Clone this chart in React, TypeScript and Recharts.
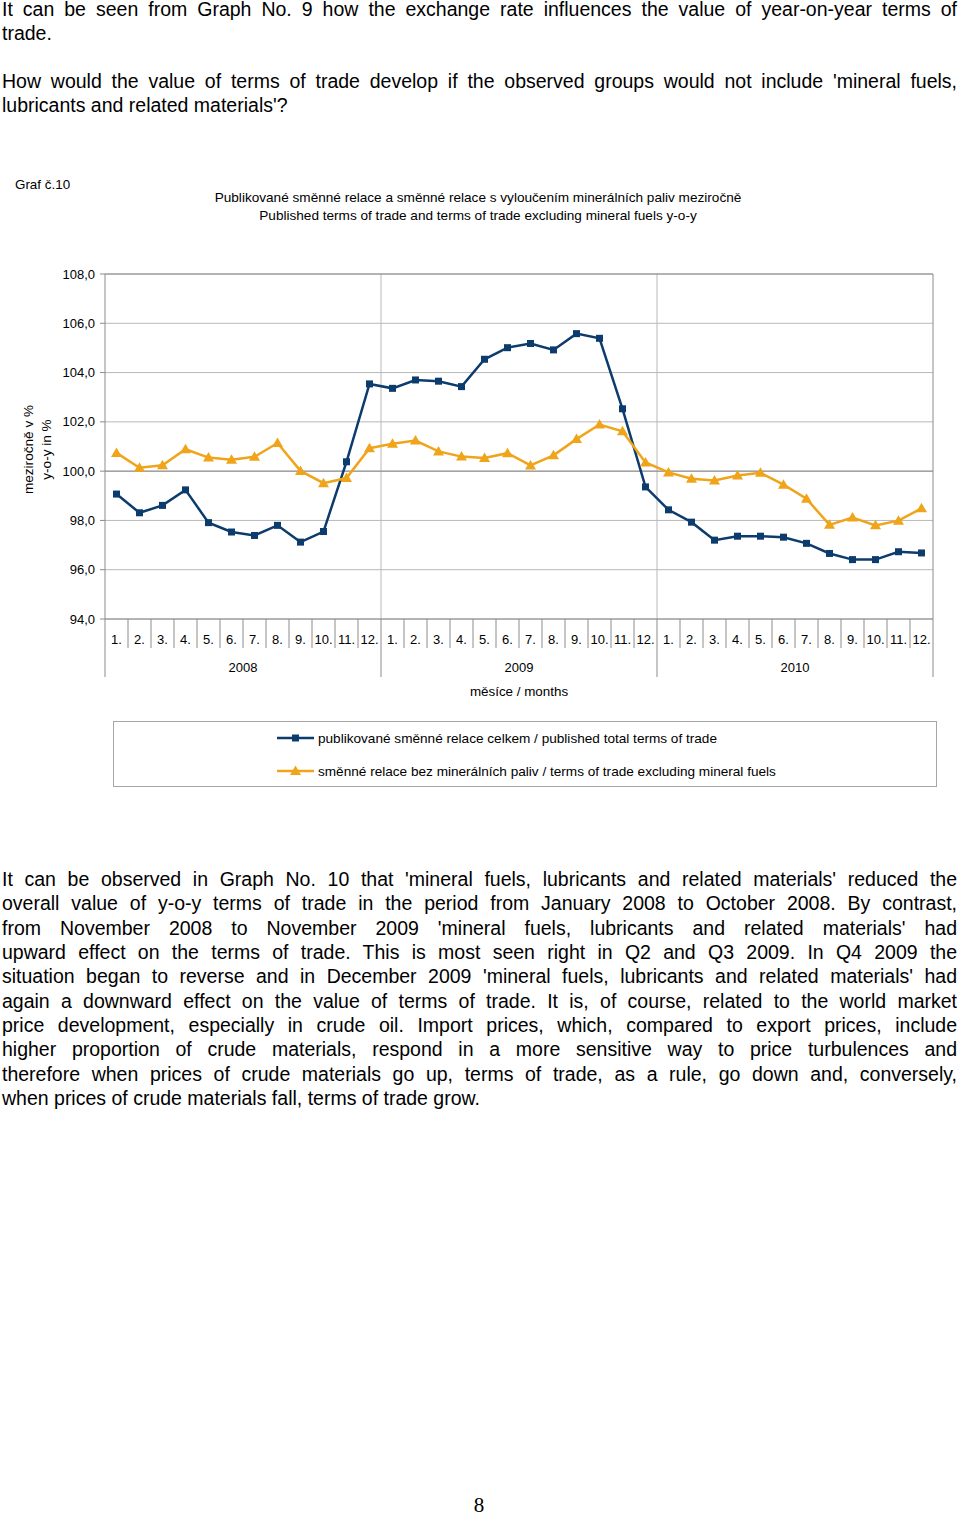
import React from 'react';
import {
  CartesianGrid,
  Legend,
  Line,
  LineChart,
  ReferenceLine,
  XAxis,
  YAxis
} from 'recharts';

const MONTHS = ['1.', '2.', '3.', '4.', '5.', '6.', '7.', '8.', '9.', '10.', '11.', '12.'];
const YEARS = ['2008', '2009', '2010'];

// publikované směnné relace celkem
const TOTAL = [
  99.07, 98.31, 98.61, 99.24, 97.91, 97.53, 97.39, 97.8, 97.12, 97.55, 100.38, 103.54,
  103.36, 103.7, 103.65, 103.43, 104.54, 105.01, 105.18, 104.92, 105.58, 105.39, 102.53, 99.36,
  98.43, 97.93, 97.2, 97.36, 97.36, 97.32, 97.07, 96.66, 96.41, 96.41, 96.73, 96.68
];

// směnné relace bez minerálních paliv
const EXCL = [
  100.74, 100.14, 100.24, 100.89, 100.55, 100.46, 100.58, 101.14, 100.01, 99.51, 99.72, 100.93,
  101.11, 101.24, 100.8, 100.59, 100.53, 100.73, 100.23, 100.64, 101.3, 101.89, 101.62, 100.35,
  99.95, 99.69, 99.62, 99.82, 99.93, 99.45, 98.88, 97.82, 98.12, 97.8, 97.99, 98.49
];

const Y_TICKS = [94, 96, 98, 100, 102, 104, 106, 108];

const SERIES = [
  { key: 'total', name: 'publikované směnné relace celkem / published total terms of trade', color: '#0c3b6e', shape: 'square' },
  { key: 'excl', name: 'směnné relace bez minerálních paliv / terms of trade excluding mineral fuels', color: '#f0a419', shape: 'triangle' }
];

const data = TOTAL.map((v, i) => ({
  x: i + 1,
  month: MONTHS[i % 12],
  year: YEARS[Math.floor(i / 12)],
  total: v,
  excl: EXCL[i]
}));

const MONTH_TICKS = data.map((d) => d.x);
const YEAR_TICKS = YEARS.map((_, i) => i * 12 + 6.5);

const CHART_W = 960;
const CHART_H = 580;
const MARGIN = { top: 44, right: 27, bottom: 109, left: 0 };
const Y_AXIS_W = 105;
const BAND = (CHART_W - MARGIN.right - MARGIN.left - Y_AXIS_W) / data.length;
const FONT = 'Arial, "Liberation Sans", sans-serif';
const AXIS_GRAY = '#8c8c8c';

const TOP_LINES = [
  ['It can be seen from Graph No. 9 how the exchange rate influences the value of year-on-year terms of', 'trade.'],
  ["How would the value of terms of trade develop if the observed groups would not include 'mineral fuels,", "lubricants and related materials'?"]
];

const BOTTOM_LINES = [
  "It can be observed in Graph No. 10 that 'mineral fuels, lubricants and related materials' reduced the",
  'overall value of y-o-y terms of trade in the period from January 2008 to October 2008. By contrast,',
  "from November 2008 to November 2009 'mineral fuels, lubricants and related materials' had",
  'upward effect on the terms of trade. This is most seen right in Q2 and Q3 2009. In Q4 2009 the',
  "situation began to reverse and in December 2009 'mineral fuels, lubricants and related materials' had",
  'again a downward effect on the value of terms of trade. It is, of course, related to the world market',
  'price development, especially in crude oil. Import prices, which, compared to export prices, include',
  'higher proportion of crude materials, respond in a more sensitive way to price turbulences and',
  'therefore when prices of crude materials go up, terms of trade, as a rule, go down and, conversely,',
  'when prices of crude materials fall, terms of trade grow.'
];

function Marker({ cx, cy, shape, color }: any) {
  if (shape === 'square') {
    return <rect x={cx - 3.5} y={cy - 3.5} width={7} height={7} fill={color} />;
  }
  return <polygon points={`${cx},${cy - 5.5} ${cx + 5.5},${cy + 4} ${cx - 5.5},${cy + 4}`} fill={color} />;
}

function MonthTick(props: any) {
  const { x, y, payload } = props;
  const i = payload.value - 1;
  const half = BAND / 2;
  const long = i % 12 === 0;
  return (
    <g>
      <line x1={x - half} x2={x - half} y1={y} y2={y + (long ? 58 : 29)} stroke={AXIS_GRAY} />
      {i === data.length - 1 && (
        <line x1={x + half} x2={x + half} y1={y} y2={y + 58} stroke={AXIS_GRAY} />
      )}
      <text x={x} y={y + 25} textAnchor="middle" fontSize={13} fill="#000" fontFamily={FONT}>
        {data[i].month}
      </text>
    </g>
  );
}

function YearTick(props: any) {
  const { x, y, index } = props;
  return (
    <text x={x} y={y + 24} textAnchor="middle" fontSize={13} fill="#000" fontFamily={FONT}>
      {YEARS[index]}
    </text>
  );
}

function YTitle(props: any) {
  const { viewBox } = props;
  const cy = viewBox.y + viewBox.height / 2 + 3;
  const x1 = viewBox.x + 33;
  const x2 = viewBox.x + 51;
  return (
    <g fontSize={13.6} fontFamily={FONT} fill="#000">
      <text x={x1} y={cy} textAnchor="middle" transform={`rotate(-90 ${x1} ${cy})`}>meziročně v %</text>
      <text x={x2} y={cy} textAnchor="middle" transform={`rotate(-90 ${x2} ${cy})`}>y-o-y in %</text>
    </g>
  );
}

function LegendBox() {
  return (
    <div
      style={{
        width: 822,
        height: 64,
        border: '1px solid #a6a6a6',
        boxSizing: 'content-box',
        position: 'relative',
        fontFamily: FONT,
        fontSize: 13.6
      }}
    >
      {SERIES.map((s, i) => (
        <div
          key={s.key}
          style={{ position: 'absolute', left: 163, top: 7 + i * 33, height: 18, display: 'flex', alignItems: 'center' }}
        >
          <svg width={37} height={14} style={{ marginRight: 4 }}>
            <line x1={0} x2={37} y1={7} y2={7} stroke={s.color} strokeWidth={2.5} />
            <Marker cx={18.5} cy={7} shape={s.shape} color={s.color} />
          </svg>
          <span>{s.name}</span>
        </div>
      ))}
    </div>
  );
}

function Chart() {
  return (
    <LineChart width={CHART_W} height={CHART_H} data={data} margin={MARGIN}>
      <CartesianGrid vertical={false} stroke="#b8b8b8" />
      <XAxis
        xAxisId="m"
        dataKey="x"
        type="number"
        domain={[0.5, 36.5]}
        ticks={MONTH_TICKS}
        interval={0}
        tick={<MonthTick />}
        tickLine={false}
        tickSize={0}
        tickMargin={0}
        height={29}
        axisLine={{ stroke: AXIS_GRAY }}
      />
      <XAxis
        xAxisId="y"
        dataKey="x"
        type="number"
        domain={[0.5, 36.5]}
        ticks={YEAR_TICKS}
        interval={0}
        tick={<YearTick />}
        tickLine={false}
        tickSize={0}
        tickMargin={0}
        height={53}
        axisLine={false}
        label={{ value: 'měsíce / months', position: 'insideBottom', offset: 5, fontSize: 13.4, fill: '#000', fontFamily: FONT }}
      />
      <YAxis
        domain={[94, 108]}
        ticks={Y_TICKS}
        interval={0}
        width={Y_AXIS_W}
        tickSize={5}
        tickMargin={5}
        tickFormatter={(v: number) => v.toFixed(1).replace('.', ',')}
        tick={{ fontSize: 13, fill: '#000', fontFamily: FONT }}
        axisLine={{ stroke: AXIS_GRAY }}
        tickLine={{ stroke: AXIS_GRAY }}
        label={{ content: <YTitle /> }}
      />
      <ReferenceLine xAxisId="m" x={12.5} stroke="#b8b8b8" />
      <ReferenceLine xAxisId="m" x={24.5} stroke="#b8b8b8" />
      <ReferenceLine xAxisId="m" x={36.5} stroke={AXIS_GRAY} />
      <ReferenceLine xAxisId="m" y={108} stroke={AXIS_GRAY} />
      <ReferenceLine xAxisId="m" y={100} stroke="#8a8a8a" />
      <Legend
        layout="vertical"
        align="center"
        verticalAlign="middle"
        wrapperStyle={{ left: 113, top: 491, width: 824, height: 66 }}
        content={() => <LegendBox />}
      />
      {SERIES.map((s) => (
        <Line
          key={s.key}
          xAxisId="m"
          type="linear"
          dataKey={s.key}
          name={s.name}
          stroke={s.color}
          strokeWidth={2.5}
          isAnimationActive={false}
          dot={(p: any) => <Marker key={`${s.key}-${p.index}`} cx={p.cx} cy={p.cy} shape={s.shape} color={s.color} />}
          activeDot={false}
        />
      ))}
    </LineChart>
  );
}

function JustifiedLines({ lines, top }: { lines: string[]; top: number }) {
  return (
    <div style={{ position: 'absolute', left: 2, top, width: 955, fontSize: 19.5, fontFamily: FONT, color: '#000' }}>
      {lines.map((t, i) => (
        <div
          key={i}
          style={{
            height: 24.33,
            lineHeight: '24.33px',
            textAlign: 'justify',
            textAlignLast: i === lines.length - 1 ? 'left' : 'justify'
          }}
        >
          {t}
        </div>
      ))}
    </div>
  );
}

export default function App() {
  return (
    <div style={{ position: 'relative', width: 960, height: 1515, background: '#fff' }}>
      <style>{'html, body { margin: 0; padding: 0; }'}</style>
      <JustifiedLines lines={TOP_LINES[0]} top={-3} />
      <JustifiedLines lines={TOP_LINES[1]} top={69} />

      <div style={{ position: 'absolute', left: 15, top: 177, fontSize: 13.4, fontFamily: FONT }}>Graf č.10</div>
      <div style={{ position: 'absolute', left: 0, width: 956, top: 189, textAlign: 'center', fontSize: 13.6, fontFamily: FONT, lineHeight: '18px' }}>
        <div>Publikované směnné relace a směnné relace s vyloučením minerálních paliv meziročně</div>
        <div>Published terms of trade and terms of trade excluding mineral fuels y-o-y</div>
      </div>

      <div style={{ position: 'absolute', left: 0, top: 230 }}>
        <Chart />
      </div>

      <JustifiedLines lines={BOTTOM_LINES} top={867} />

      <div style={{ position: 'absolute', left: 0, width: 958, top: 1493, textAlign: 'center', fontSize: 21, fontFamily: '"Liberation Serif", "Times New Roman", serif' }}>
        8
      </div>
    </div>
  );
}
